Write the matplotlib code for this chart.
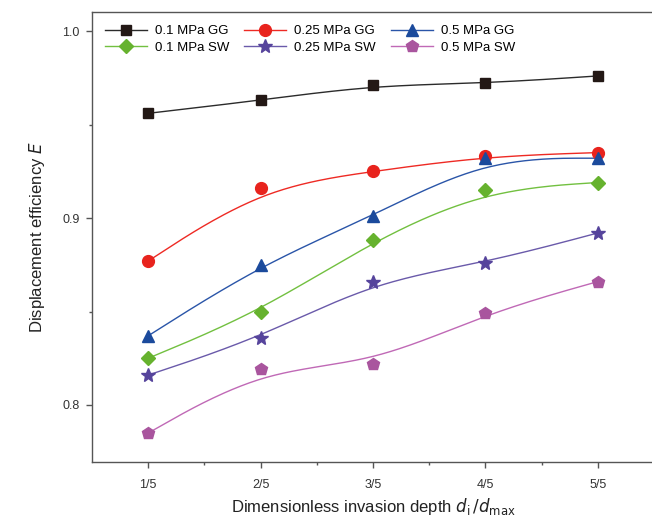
import numpy as np
import matplotlib
matplotlib.use("Agg")
import matplotlib.pyplot as plt

plt.rcParams['font.family'] = ['Liberation Sans', 'DejaVu Sans']

# data
depth = [1, 2, 3, 4, 5]
depth_labels = ['1/5', '2/5', '3/5', '4/5', '5/5']

gg_01 = [0.956, 0.963, 0.971, 0.972, 0.976]
gg_025 = [0.877, 0.916, 0.925, 0.933, 0.935]
gg_05 = [0.837, 0.875, 0.901, 0.932, 0.932]
sw_01 = [0.825, 0.850, 0.888, 0.915, 0.919]
sw_025 = [0.816, 0.836, 0.866, 0.876, 0.892]
sw_05 = [0.785, 0.819, 0.822, 0.849, 0.866]


# uniform cubic B-spline, data points used as control points (ends clamped)
def bspline(xs, ys, n=40):
    px = np.r_[[xs[0]] * 2, xs, [xs[-1]] * 2].astype(float)
    py = np.r_[[ys[0]] * 2, ys, [ys[-1]] * 2].astype(float)
    t = np.linspace(0, 1, n)
    b0 = (1 - t) ** 3 / 6
    b1 = (3 * t ** 3 - 6 * t ** 2 + 4) / 6
    b2 = (-3 * t ** 3 + 3 * t ** 2 + 3 * t + 1) / 6
    b3 = t ** 3 / 6
    cx, cy = [], []
    for i in range(len(px) - 3):
        cx.append(b0 * px[i] + b1 * px[i + 1] + b2 * px[i + 2] + b3 * px[i + 3])
        cy.append(b0 * py[i] + b1 * py[i + 1] + b2 * py[i + 2] + b3 * py[i + 3])
    return np.concatenate(cx), np.concatenate(cy)


series = [
    ('0.1 MPa GG', gg_01, '#231815', '#2b2b2b', 's', 7.5),
    ('0.1 MPa SW', sw_01, '#66b22e', '#72c040', 'D', 7.5),
    ('0.25 MPa GG', gg_025, '#e8231d', '#ee2a24', 'o', 8.5),
    ('0.25 MPa SW', sw_025, '#56449c', '#6a5aaa', '*', 10.5),
    ('0.5 MPa GG', gg_05, '#1b4a9c', '#2a55a8', '^', 9),
    ('0.5 MPa SW', sw_05, '#a9559e', '#c069b6', 'p', 9),
]

fig = plt.figure(figsize=(6.52, 5.2), dpi=100)
ax = fig.add_axes([92 / 652, 58 / 520, 562 / 652, 450 / 520])

for label, vals, mc, lc, mk, ms in series:
    sx, sy = bspline(depth, vals)
    ax.plot(sx, sy, color=lc, lw=1.0, zorder=2)
    ax.plot(depth, vals, ls='none', marker=mk, ms=ms, color=mc, zorder=3)
    # legend proxy
    ax.plot([], [], color=lc, lw=1.0, marker=mk, ms=ms, mfc=mc, mec=mc, label=label)

ax.set_xlim(0.5, 5.5)
ax.set_ylim(0.7695, 1.0102)
ax.set_xticks(depth)
ax.set_xticklabels(depth_labels)
ax.set_xticks([1.5, 2.5, 3.5, 4.5], minor=True)
ax.set_yticks([0.8, 0.9, 1.0])
ax.set_yticklabels(['0.8', '0.9', '1.0'])
ax.set_yticks([0.85, 0.95], minor=True)

for s in ['left', 'bottom', 'top']:
    ax.spines[s].set_color('#555555')
    ax.spines[s].set_linewidth(1.0)
ax.spines['right'].set_visible(False)

ax.tick_params(axis='both', which='major', direction='out', length=4, width=1.0,
               color='#555555', labelsize=9, labelcolor='#333333')
ax.tick_params(axis='both', which='minor', direction='out', length=2.5, width=1.0,
               color='#555555')
ax.tick_params(axis='x', which='major', pad=8)
ax.tick_params(axis='y', which='major', pad=5)

ax.set_ylabel('Displacement efficiency $\\it{E}$', fontsize=12, color='#222222', labelpad=11)
ax.set_xlabel('Dimensionless invasion depth $\\it{d}_\\mathrm{i}\\,/\\it{d}_\\mathrm{max}$',
              fontsize=12, color='#222222', labelpad=4)

ax.legend(loc='upper left', ncol=3, frameon=False, fontsize=9.5,
          handlelength=3.2, handletextpad=0.6, columnspacing=1.1,
          labelspacing=0.3, borderaxespad=0.6, bbox_to_anchor=(0.0, 1.0))

fig.savefig('out.png', dpi=100)
